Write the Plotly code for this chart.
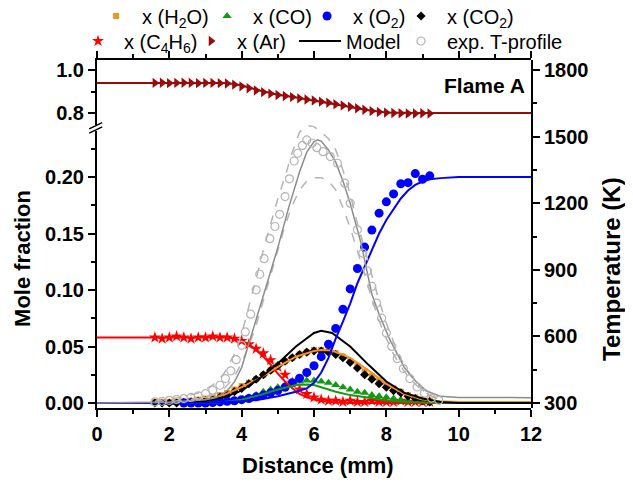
import plotly.graph_objects as go

# ---------------- data ----------------
x_ms = [1.6, 1.8, 2.0, 2.2, 2.4, 2.6, 2.8, 3.0, 3.2, 3.4, 3.6, 3.8, 4.0, 4.2, 4.4, 4.6, 4.8, 5.0, 5.2, 5.4,
        5.6, 5.8, 6.0, 6.2, 6.4, 6.6, 6.8, 7.0, 7.2, 7.4, 7.6, 7.8, 8.0, 8.2, 8.4, 8.6, 8.8, 9.0, 9.2]

h2o_exp = [0.001, 0.001, 0.001, 0.001, 0.0015, 0.002, 0.003, 0.004, 0.005, 0.007, 0.009, 0.012, 0.015, 0.018,
           0.021, 0.025, 0.029, 0.033, 0.037, 0.040, 0.043, 0.045, 0.047, 0.047, 0.046, 0.044, 0.041, 0.037,
           0.033, 0.028, 0.024, 0.020, 0.016, 0.013, 0.010, 0.007, 0.005, 0.003, 0.002]
co_exp = [0.0, 0.0, 0.0, 0.0, 0.0, 0.0, 0.0005, 0.0005, 0.001, 0.001, 0.0015, 0.002, 0.003, 0.005, 0.007,
          0.010, 0.012, 0.014, 0.016, 0.017, 0.019, 0.020, 0.020, 0.019, 0.018, 0.016, 0.014, 0.012, 0.010,
          0.009, 0.007, 0.006, 0.005, 0.004, 0.003, 0.002, 0.0015, 0.001, 0.001]
co2_exp = [0.0, 0.0, 0.0, 0.0, 0.0005, 0.001, 0.0015, 0.002, 0.003, 0.005, 0.007, 0.010, 0.013, 0.017, 0.021,
           0.025, 0.029, 0.033, 0.037, 0.040, 0.043, 0.045, 0.046, 0.046, 0.045, 0.043, 0.040, 0.036, 0.031,
           0.025, 0.021, 0.017, 0.014, 0.011, 0.009, 0.006, 0.004, 0.002, 0.001]
c4h6_exp = [0.058, 0.057, 0.058, 0.059, 0.058, 0.057, 0.058, 0.058, 0.059, 0.058, 0.058, 0.057, 0.055, 0.052,
            0.048, 0.044, 0.038, 0.032, 0.025, 0.018, 0.012, 0.008, 0.005, 0.003, 0.002, 0.002, 0.001, 0.002,
            0.001, 0.001, 0.002, 0.001, 0.001, 0.001, 0.002, 0.001, 0.001, 0.001, 0.001]
ar_exp = [0.940, 0.941, 0.939, 0.940, 0.941, 0.940, 0.939, 0.940, 0.940, 0.939, 0.937, 0.932, 0.924, 0.915,
          0.905, 0.897, 0.890, 0.884, 0.879, 0.874, 0.868, 0.863, 0.858, 0.853, 0.848, 0.841, 0.835, 0.829,
          0.822, 0.815, 0.809, 0.805, 0.802, 0.800, 0.799, 0.798, 0.798, 0.799, 0.798]

x_o2 = [2.4, 2.6, 2.8, 3.0, 3.2, 3.4, 3.6, 3.8, 4.0, 4.2, 4.4, 4.6, 4.8, 5.0, 5.2, 5.4, 5.6, 5.8, 6.0, 6.2,
        6.4, 6.6, 6.8, 7.0, 7.2, 7.4, 7.6, 7.8, 8.0, 8.2, 8.4, 8.6, 8.8, 9.0, 9.2]
o2_exp = [0.0, 0.0, 0.0, 0.0, 0.0005, 0.001, 0.0015, 0.002, 0.003, 0.004, 0.0055, 0.007, 0.009, 0.011, 0.014,
          0.018, 0.022, 0.027, 0.033, 0.041, 0.052, 0.066, 0.083, 0.101, 0.119, 0.138, 0.153, 0.168, 0.178,
          0.185, 0.194, 0.195, 0.203, 0.198, 0.201]

# model curves
x_h2o_m = [0, 1, 2, 2.5, 3, 3.5, 4, 4.5, 5, 5.5, 6, 6.2, 6.5, 7, 7.5, 8, 8.5, 9, 9.5, 10, 12]
h2o_m = [0.0, 0.0, 0.0005, 0.001, 0.003, 0.007, 0.014, 0.022, 0.032, 0.041, 0.046, 0.047, 0.0465, 0.040,
         0.029, 0.017, 0.008, 0.003, 0.0015, 0.001, 0.001]
x_co_m = [0, 3, 3.5, 4, 4.5, 5, 5.5, 5.8, 6.0, 6.3, 6.6, 7, 7.5, 8, 8.5, 9, 10, 12]
co_m = [0.0, 0.0, 0.001, 0.003, 0.007, 0.012, 0.016, 0.0165, 0.016, 0.013, 0.010, 0.007, 0.0045, 0.0025,
        0.001, 0.0005, 0.0, 0.0]
x_co2_m = [0, 2, 2.5, 3, 3.5, 4, 4.5, 5, 5.5, 6, 6.2, 6.5, 7, 7.5, 8, 8.5, 9, 9.5, 10, 12]
co2_m = [0.0, 0.0, 0.001, 0.002, 0.005, 0.011, 0.022, 0.035, 0.050, 0.062, 0.064, 0.062, 0.050, 0.034,
         0.019, 0.009, 0.004, 0.001, 0.0, 0.0]
x_o2_m = [0, 2, 3, 3.5, 4, 4.5, 5, 5.5, 5.8, 6.0, 6.2, 6.4, 6.6, 6.8, 7.0, 7.2, 7.4, 7.6, 7.8, 8.0, 8.2,
          8.4, 8.6, 8.8, 9.0, 9.2, 9.5, 10, 12]
o2_m = [0.0, 0.0, 0.0003, 0.0008, 0.0015, 0.003, 0.006, 0.010, 0.013, 0.018, 0.027, 0.040, 0.057, 0.072,
        0.088, 0.106, 0.121, 0.136, 0.150, 0.162, 0.172, 0.181, 0.188, 0.193, 0.196, 0.198, 0.199, 0.2, 0.2]
x_c4h6_m = [0, 3.5, 3.8, 4.0, 4.2, 4.4, 4.6, 4.8, 5.0, 5.2, 5.4, 5.6, 5.8, 6.0, 6.3, 6.6, 7, 12]
c4h6_m = [0.058, 0.058, 0.057, 0.055, 0.052, 0.047, 0.041, 0.034, 0.026, 0.019, 0.013, 0.008, 0.005, 0.003,
          0.0015, 0.0005, 0.0, 0.0]
x_ar_m = [0, 3.5, 3.8, 4.0, 4.5, 5.0, 5.5, 6.0, 6.5, 7.0, 7.5, 8.0, 8.5, 9, 12]
ar_m = [0.94, 0.94, 0.935, 0.928, 0.905, 0.885, 0.872, 0.858, 0.844, 0.829, 0.813, 0.803, 0.800, 0.80, 0.80]

# temperature
x_t_m = [0, 2, 3, 3.3, 3.6, 3.8, 4.0, 4.2, 4.4, 4.7, 5.0, 5.3, 5.6, 5.8, 6.0, 6.1, 6.2, 6.4, 6.6, 6.8, 7.0,
         7.3, 7.6, 7.8, 8.1, 8.5, 8.8, 9.1, 9.5, 10, 12]
t_m = [300, 303, 315, 325, 355, 395, 460, 570, 680, 845, 1000, 1180, 1340, 1430, 1478, 1485, 1480, 1440,
       1385, 1300, 1200, 1020, 790, 700, 584, 460, 400, 355, 330, 325, 324]
x_t_exp = [1.6, 1.8, 2.0, 2.2, 2.4, 2.6, 2.8, 3.0, 3.2, 3.4, 3.55, 3.7, 3.85, 4.0, 4.1, 4.25, 4.4, 4.5, 4.62,
           4.78, 4.92, 5.05, 5.2, 5.32, 5.45, 5.55, 5.68, 5.8, 5.95, 6.08, 6.25, 6.45, 6.65, 6.85, 7.0, 7.2,
           7.35, 7.48, 7.6, 7.73, 7.87, 8.0, 8.15, 8.3, 8.47, 8.65, 8.85, 9.05, 9.25, 9.45]
t_exp = [305, 308, 312, 316, 320, 325, 332, 342, 358, 380, 410, 445, 495, 560, 620, 700, 810, 880, 950, 1040,
         1095, 1150, 1230, 1310, 1390, 1425, 1460, 1485, 1470, 1450, 1432, 1410, 1380, 1290, 1200, 1080, 975,
         895, 825, 750, 682, 615, 555, 500, 455, 410, 372, 344, 322, 312]
x_t_band = [1.6, 2.0, 2.4, 2.8, 3.2, 3.5, 3.8, 4.0, 4.2, 4.4, 4.6, 4.8, 5.0, 5.2, 5.4, 5.6, 5.8, 6.0, 6.2, 6.4,
            6.6, 6.8, 7.0, 7.2, 7.4, 7.6, 7.8, 8.0, 8.2, 8.4, 8.6, 8.8, 9.0, 9.2, 9.4]
t_upper = [308, 318, 328, 345, 380, 430, 520, 610, 730, 860, 990, 1110, 1220, 1320, 1430, 1520, 1550, 1545,
           1520, 1490, 1440, 1350, 1240, 1110, 990, 870, 760, 660, 575, 500, 440, 395, 360, 335, 320]
t_lower = [302, 306, 312, 320, 335, 360, 420, 480, 560, 650, 760, 880, 990, 1100, 1190, 1260, 1300, 1315,
           1315, 1300, 1260, 1180, 1090, 990, 880, 770, 670, 590, 520, 465, 420, 385, 355, 335, 320]

# tick labels
x_ticks = [0, 2, 4, 6, 8, 10, 12]
y_ticks = [0.00, 0.05, 0.10, 0.15, 0.20]
y_top_ticks = [0.8, 1.0]
t_ticks = [300, 600, 900, 1200, 1500, 1800]

# ---------------- styling ----------------
FONT = "Liberation Sans, Arial, sans-serif"
ORANGE = "#F7901E"
GREEN = "#119A11"
BLUE = "#0000FF"
RED = "#FF0000"
DARKRED = "#9B0A0A"
GRAY = "#8C8C8C"
LGRAY = "#B4B4B4"

fig = go.Figure()

# temperature (right axis, full height)
fig.add_trace(go.Scatter(x=x_t_band, y=t_upper, mode="lines", xaxis="x", yaxis="y3",
                         line=dict(color=LGRAY, width=1.5, dash="dash"), showlegend=False, hoverinfo="skip"))
fig.add_trace(go.Scatter(x=x_t_band, y=t_lower, mode="lines", xaxis="x", yaxis="y3",
                         line=dict(color=LGRAY, width=1.5, dash="dash"), showlegend=False, hoverinfo="skip"))
fig.add_trace(go.Scatter(x=x_t_m, y=t_m, mode="lines", xaxis="x", yaxis="y3",
                         line=dict(color=GRAY, width=1.5), showlegend=False))

# species experiments
fig.add_trace(go.Scatter(x=x_ms, y=c4h6_exp, mode="markers", name="x (C<sub>4</sub>H<sub>6</sub>)",
                         marker=dict(symbol="star", color=RED, size=9), legend="legend2", legendrank=1,
                         legendwidth=56))
fig.add_trace(go.Scatter(x=x_ms, y=co_exp, mode="markers", name="x (CO)",
                         marker=dict(symbol="triangle-up", color=GREEN, size=8), legend="legend", legendrank=2,
                         legendwidth=43))
fig.add_trace(go.Scatter(x=x_ms, y=h2o_exp, mode="markers", name="x (H<sub>2</sub>O)",
                         marker=dict(symbol="square", color=ORANGE, size=6), legend="legend", legendrank=1,
                         legendwidth=54))
fig.add_trace(go.Scatter(x=x_ms, y=co2_exp, mode="markers", name="x (CO<sub>2</sub>)",
                         marker=dict(symbol="diamond", color="black", size=7), legend="legend", legendrank=4,
                         legendwidth=72))
fig.add_trace(go.Scatter(x=x_o2, y=o2_exp, mode="markers", name="x (O<sub>2</sub>)",
                         marker=dict(symbol="circle", color=BLUE, size=9), legend="legend", legendrank=3,
                         legendwidth=37))

# models
fig.add_trace(go.Scatter(x=x_c4h6_m, y=c4h6_m, mode="lines", line=dict(color=RED, width=2), showlegend=False))
fig.add_trace(go.Scatter(x=x_co_m, y=co_m, mode="lines", line=dict(color=GREEN, width=2), showlegend=False))
fig.add_trace(go.Scatter(x=x_h2o_m, y=h2o_m, mode="lines", line=dict(color=ORANGE, width=2), showlegend=False))
fig.add_trace(go.Scatter(x=x_co2_m, y=co2_m, mode="lines", name="Model", line=dict(color="black", width=2),
                         legend="legend2", legendrank=3, legendwidth=44))
fig.add_trace(go.Scatter(x=x_o2_m, y=o2_m, mode="lines", line=dict(color=BLUE, width=2), showlegend=False))

# exp temperature markers
fig.add_trace(go.Scatter(x=x_t_exp, y=t_exp, mode="markers", name="exp. T-profile", xaxis="x", yaxis="y3",
                         marker=dict(symbol="circle-open", color=LGRAY, size=8, line=dict(width=1.2)),
                         legend="legend2", legendrank=4, legendwidth=130))

# Ar in top panel
fig.add_trace(go.Scatter(x=x_ar_m, y=ar_m, mode="lines", xaxis="x2", yaxis="y2",
                         line=dict(color=DARKRED, width=2), showlegend=False))
fig.add_trace(go.Scatter(x=x_ms, y=ar_exp, mode="markers", name="x (Ar)", xaxis="x2", yaxis="y2",
                         marker=dict(symbol="triangle-right", color=DARKRED, size=9),
                         legend="legend2", legendrank=2, legendwidth=52))

tickfont = dict(family=FONT, size=20, color="black", weight="bold")
common = dict(showline=True, linecolor="black", linewidth=2, ticks="outside", ticklen=7, tickwidth=2,
              tickcolor="black", showgrid=False, zeroline=False, tickfont=tickfont)
minor_style = dict(ticks="outside", ticklen=4, tickwidth=2, tickcolor="black")

# the page body adds an 8 px offset; the figure is sized so the plot area sits where the reference has it
fig.update_layout(
    width=625, height=474,
    margin=dict(l=89, r=102, t=52, b=74, autoexpand=False),
    paper_bgcolor="white", plot_bgcolor="rgba(0,0,0,0)",
    font=dict(family=FONT, color="black"),
    xaxis=dict(domain=[0, 1], range=[0, 12], anchor="y", tickvals=x_ticks,
               minor=dict(dtick=1, **minor_style), **common),
    xaxis2=dict(domain=[0, 1], range=[0, 12], anchor="y2", side="top", tickvals=x_ticks, showticklabels=False,
                minor=dict(dtick=1, **minor_style), **common),
    yaxis=dict(domain=[0, 0.796], range=[-0.0044, 0.2407], anchor="x", tickvals=y_ticks, tickformat=".2f",
               minor=dict(dtick=0.025, tick0=0, **minor_style), **common),
    yaxis2=dict(domain=[0.813, 1], range=[0.744, 1.0465], anchor="x2", tickvals=y_top_ticks, tickformat=".1f",
                minor=dict(dtick=0.1, tick0=0, **minor_style), **common),
    yaxis3=dict(domain=[0, 1], range=[277.5, 1845], anchor="x", side="right", tickvals=t_ticks,
                minor=dict(dtick=150, tick0=300, **minor_style), **common),
    legend=dict(orientation="h", x=-0.016, xanchor="left", y=1.1264, yanchor="middle",
                font=dict(family=FONT, size=20, color="black"), bgcolor="rgba(0,0,0,0)",
                traceorder="normal", itemwidth=42),
    legend2=dict(orientation="h", x=-0.0576, xanchor="left", y=1.0546, yanchor="middle",
                 font=dict(family=FONT, size=20, color="black"), bgcolor="rgba(0,0,0,0)",
                 traceorder="normal", itemwidth=42),
)

# axis titles and label
fig.add_annotation(text="<b>Distance (mm)</b>", xref="paper", yref="paper", x=0.509, y=-0.164,
                   xanchor="center", yanchor="middle",
                   showarrow=False, font=dict(family=FONT, size=22, color="black"))
fig.add_annotation(text="<b>Mole fraction</b>", xref="paper", yref="paper", x=-0.173, y=0.431, textangle=-90,
                   xanchor="center", yanchor="middle",
                   showarrow=False, font=dict(family=FONT, size=22, color="black"))
fig.add_annotation(text="<b>Temperature (K)</b>", xref="paper", yref="paper", x=1.187, y=0.40, textangle=-90,
                   xanchor="center", yanchor="middle",
                   showarrow=False, font=dict(family=FONT, size=24, color="black"))
fig.add_annotation(text="<b>Flame A</b>", xref="paper", yref="paper", x=0.99, y=0.928, xanchor="right",
                   yanchor="middle", showarrow=False, font=dict(family=FONT, size=21, color="black"))

# axis break marks on the left axis
for dy in (0.0, 0.012):
    fig.add_shape(type="line", xref="paper", yref="paper", x0=-0.018, x1=0.012,
                  y0=0.796 - 0.006 + dy, y1=0.796 + 0.012 + dy, line=dict(color="black", width=1.5))

fig.write_html("out.html")
